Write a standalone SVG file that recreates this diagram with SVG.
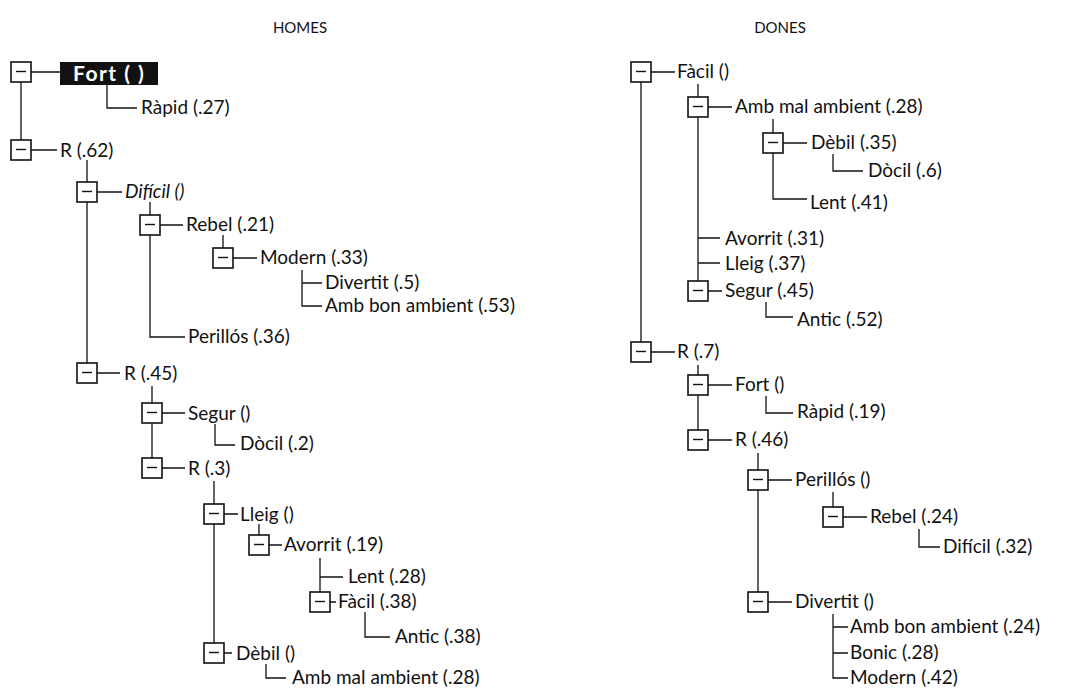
<svg xmlns="http://www.w3.org/2000/svg" xmlns:xlink="http://www.w3.org/1999/xlink" width="1065" height="689" viewBox="0 0 1065 689">
<style>
text{font-family:Lato,"Liberation Sans",sans-serif;font-size:19px;fill:#111}
.title{font-size:15px;text-anchor:middle}
.it{font-style:italic}
.inv{fill:#fff;font-weight:bold;font-size:21px;letter-spacing:1.5px}
.conn path{fill:none;stroke:#111;stroke-width:1.3}
</style>
<defs>
<g id="bx"><rect x="0" y="0" width="20" height="20" fill="#fff" stroke="#111" stroke-width="1.6"/><line x1="5" y1="9.5" x2="15" y2="9.5" stroke="#111" stroke-width="1.4"/></g>
</defs>
<rect width="1065" height="689" fill="#fff"/>
<text class="title" x="300" y="33">HOMES</text>
<text class="title" x="780" y="33">DONES</text>
<g class="conn" id="connectors">
<path d="M31 72H60M107 85V108H137M21 82V140M31 150H57M87 160V182M97 192H122M150 202V215M160 225H183M223 235V248M233 258H257M302 270V306H322M302 283H322M150 235V337H185M87 202V363M97 373H120M152 386V403M162 413H185M215 424V445H235M152 423V458M162 468H185M214 481V504M224 514H238M259 524V535M269 545H282M320 558V592M320 577H343M330 602H336M365 612V637H390M214 524V643M224 653H232M266 664V678H286"/>
<path d="M651 72H675M698 84V97M708 107H732M773 119V133M783 143H807M833 154V171H863M773 153V199H807M698 117V281M698 238H720M698 263H720M708 291H722M766 302V317H793M641 82V342M651 352H675M698 365V375M708 385H732M766 396V413H793M698 395V430M708 440H732M758 453V470M768 480H792M833 492V507M843 517H867M919 529V547H940M758 490V592M768 602H792M833 614V678H848M833 627H848M833 653H848"/>
</g>
<g id="l_root"><use xlink:href="#bx" x="11" y="62"/></g>
<g id="l_fort"><rect x="60" y="62" width="98" height="23" fill="#111"/><text class="inv" x="73" y="81">Fort ( )</text></g>
<g id="l_rapid27"><text x="141" y="114">Ràpid (.27)</text></g>
<g id="l_r62"><use xlink:href="#bx" x="11" y="140"/><text x="60" y="157">R (.62)</text></g>
<g id="l_dificil"><use xlink:href="#bx" x="77" y="182"/><text class="it" x="125" y="198">Difícil ()</text></g>
<g id="l_rebel21"><use xlink:href="#bx" x="140" y="215"/><text x="186" y="231">Rebel (.21)</text></g>
<g id="l_modern33"><use xlink:href="#bx" x="213" y="248"/><text x="260" y="264">Modern (.33)</text></g>
<g id="l_divertit5"><text x="325" y="289">Divertit (.5)</text></g>
<g id="l_ambbon53"><text x="325" y="312">Amb bon ambient (.53)</text></g>
<g id="l_perillos36"><text x="188" y="343">Perillós (.36)</text></g>
<g id="l_r45"><use xlink:href="#bx" x="77" y="363"/><text x="124" y="380">R (.45)</text></g>
<g id="l_segur"><use xlink:href="#bx" x="142" y="403"/><text x="188" y="420">Segur ()</text></g>
<g id="l_docil2"><text x="240" y="450">Dòcil (.2)</text></g>
<g id="l_r3"><use xlink:href="#bx" x="142" y="458"/><text x="188" y="475">R (.3)</text></g>
<g id="l_lleig"><use xlink:href="#bx" x="204" y="504"/><text x="240" y="521">Lleig ()</text></g>
<g id="l_avorrit19"><use xlink:href="#bx" x="249" y="535"/><text x="284" y="551">Avorrit (.19)</text></g>
<g id="l_lent28"><text x="348" y="583">Lent (.28)</text></g>
<g id="l_facil38"><use xlink:href="#bx" x="310" y="592"/><text x="338" y="608">Fàcil (.38)</text></g>
<g id="l_antic38"><text x="395" y="643">Antic (.38)</text></g>
<g id="l_debil"><use xlink:href="#bx" x="204" y="643"/><text x="236" y="660">Dèbil ()</text></g>
<g id="l_ambmal28"><text x="292" y="684">Amb mal ambient (.28)</text></g>
<g id="r_facil"><use xlink:href="#bx" x="631" y="62"/><text x="677" y="78">Fàcil ()</text></g>
<g id="r_ambmal28"><use xlink:href="#bx" x="688" y="97"/><text x="735" y="113">Amb mal ambient (.28)</text></g>
<g id="r_debil35"><use xlink:href="#bx" x="763" y="133"/><text x="811" y="149">Dèbil (.35)</text></g>
<g id="r_docil6"><text x="868" y="177">Dòcil (.6)</text></g>
<g id="r_lent41"><text x="810" y="209">Lent (.41)</text></g>
<g id="r_avorrit31"><text x="725" y="245">Avorrit (.31)</text></g>
<g id="r_lleig37"><text x="725" y="270">Lleig (.37)</text></g>
<g id="r_segur45"><use xlink:href="#bx" x="688" y="281"/><text x="725" y="297">Segur (.45)</text></g>
<g id="r_antic52"><text x="797" y="326">Antic (.52)</text></g>
<g id="r_r7"><use xlink:href="#bx" x="631" y="342"/><text x="677" y="358">R (.7)</text></g>
<g id="r_fort"><use xlink:href="#bx" x="688" y="375"/><text x="735" y="391">Fort ()</text></g>
<g id="r_rapid19"><text x="797" y="418">Ràpid (.19)</text></g>
<g id="r_r46"><use xlink:href="#bx" x="688" y="430"/><text x="735" y="446">R (.46)</text></g>
<g id="r_perillos"><use xlink:href="#bx" x="748" y="470"/><text x="795" y="486">Perillós ()</text></g>
<g id="r_rebel24"><use xlink:href="#bx" x="823" y="507"/><text x="870" y="523">Rebel (.24)</text></g>
<g id="r_dificil32"><text x="943" y="553">Difícil (.32)</text></g>
<g id="r_divertit"><use xlink:href="#bx" x="748" y="592"/><text x="795" y="608">Divertit ()</text></g>
<g id="r_ambbon24"><text x="850" y="633">Amb bon ambient (.24)</text></g>
<g id="r_bonic28"><text x="850" y="659">Bonic (.28)</text></g>
<g id="r_modern42"><text x="850" y="684">Modern (.42)</text></g>
</svg>
